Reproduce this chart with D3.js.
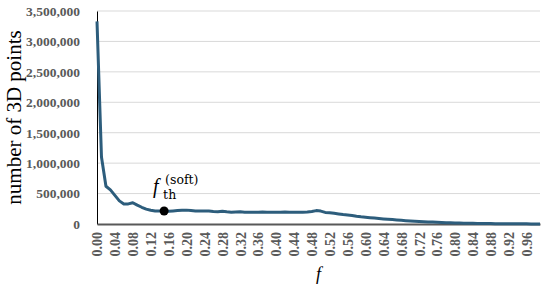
<!DOCTYPE html>
<html>
<head>
<meta charset="utf-8">
<script src="https://cdn.jsdelivr.net/npm/d3@7"></script>
<style>
	body { margin: 0; background: #fff; }
	svg text { font-family: "Liberation Serif", "Times New Roman", serif; }
</style>
</head>
<body>
<div id="chart"></div>
<script>
// f values 0.00 .. 0.99
const fValues = d3.range(100).map(i => (i / 100).toFixed(2));
// number of 3D points for each f
const pointCounts = [
	3330000, 1100000, 620000, 560000, 470000, 380000, 330000, 330000, 350000, 310000,
	275000, 245000, 225000, 215000, 215000, 213000, 210000, 215000, 220000, 225000,
	228000, 222000, 215000, 212000, 215000, 212000, 205000, 203000, 208000, 200000,
	195000, 198000, 200000, 195000, 192000, 195000, 193000, 196000, 195000, 193000,
	195000, 192000, 196000, 194000, 193000, 195000, 194000, 196000, 205000, 220000,
	212000, 190000, 185000, 175000, 165000, 155000, 148000, 140000, 128000, 118000,
	110000, 103000, 97000, 90000, 84000, 78000, 72000, 66000, 60000, 55000,
	50000, 45000, 41000, 37000, 34000, 31000, 28000, 25000, 22000, 20000,
	18000, 16000, 14000, 12500, 11000, 10000, 9000, 8000, 7000, 6000,
	5500, 5000, 4500, 4000, 3500, 3000, 2500, 2000, 1800, 1500
];
const yTicks = [0, 500000, 1000000, 1500000, 2000000, 2500000, 3000000, 3500000];
const xTickLabels = fValues.filter((d, i) => i % 4 === 0);
const markerIndex = 15; // f_th(soft)

const width = 550, height = 287;
const margin = { top: 11, right: 10, bottom: 63, left: 97 };

const svg = d3.select('#chart').append('svg')
	.attr('width', width)
	.attr('height', height);

const x = d3.scalePoint()
	.domain(fValues)
	.range([margin.left, width - margin.right]);
const y = d3.scaleLinear()
	.domain([0, 3500000])
	.range([height - margin.bottom, margin.top]);

// gridlines
svg.append('g')
	.selectAll('line')
	.data(yTicks.slice(1))
	.enter()
	.append('line')
	.attr('x1', margin.left)
	.attr('x2', width - margin.right)
	.attr('y1', d => y(d))
	.attr('y2', d => y(d))
	.attr('stroke', '#d9d9d9')
	.attr('stroke-width', 1);

// y axis
const yAxis = svg.append('g')
	.attr('transform', `translate(${margin.left},0)`)
	.call(d3.axisLeft(y).tickValues(yTicks).tickSize(0).tickPadding(17).tickFormat(d3.format(',')));
yAxis.select('.domain').attr('stroke', '#000').attr('stroke-width', 1);
yAxis.selectAll('text')
	.style('font-size', '13.5px')
	.style('font-weight', 'bold')
	.attr('fill', '#595959');

// x axis
const xAxis = svg.append('g')
	.attr('transform', `translate(0,${y(0)})`)
	.call(d3.axisBottom(x).tickValues(xTickLabels).tickSize(0));
xAxis.select('.domain').attr('stroke', '#595959').attr('stroke-width', 2);
xAxis.selectAll('text')
	.style('font-size', '14px')
	.style('font-weight', 'bold')
	.attr('fill', '#595959')
	.attr('transform', 'rotate(-90)')
	.attr('text-anchor', 'end')
	.attr('x', -8)
	.attr('y', 0)
	.attr('dy', '0.35em');

// line
const line = d3.line()
	.x((d, i) => x(fValues[i]))
	.y(d => y(d));
svg.append('path')
	.datum(pointCounts)
	.attr('fill', 'none')
	.attr('stroke', '#2d5d7c')
	.attr('stroke-width', 3)
	.attr('stroke-linejoin', 'round')
	.attr('d', line);

// threshold marker
const mx = x(fValues[markerIndex]), my = y(pointCounts[markerIndex]);
svg.append('circle')
	.attr('cx', mx)
	.attr('cy', my)
	.attr('r', 4.5)
	.attr('fill', '#000');
svg.append('text')
	.attr('x', mx - 11)
	.attr('y', my - 18)
	.style('font-style', 'italic')
	.style('font-size', '20px')
	.text('f');
svg.append('text')
	.attr('x', mx - 1)
	.attr('y', my - 12)
	.style('font-family', '"DejaVu Serif", serif')
	.style('font-size', '12.5px')
	.text('th');
svg.append('text')
	.attr('x', mx + 1)
	.attr('y', my - 27)
	.style('font-family', '"DejaVu Serif", serif')
	.style('font-size', '12.5px')
	.text('(soft)');

// axis titles
svg.append('text')
	.attr('transform', `translate(21,${(y(0) + y(3500000)) / 2}) rotate(-90)`)
	.attr('text-anchor', 'middle')
	.style('font-size', '21px')
	.text('number of 3D points');
svg.append('text')
	.attr('x', (margin.left + width - margin.right) / 2)
	.attr('y', 280)
	.attr('text-anchor', 'middle')
	.style('font-size', '18px')
	.style('font-style', 'italic')
	.text('f');
</script>
</body>
</html>
